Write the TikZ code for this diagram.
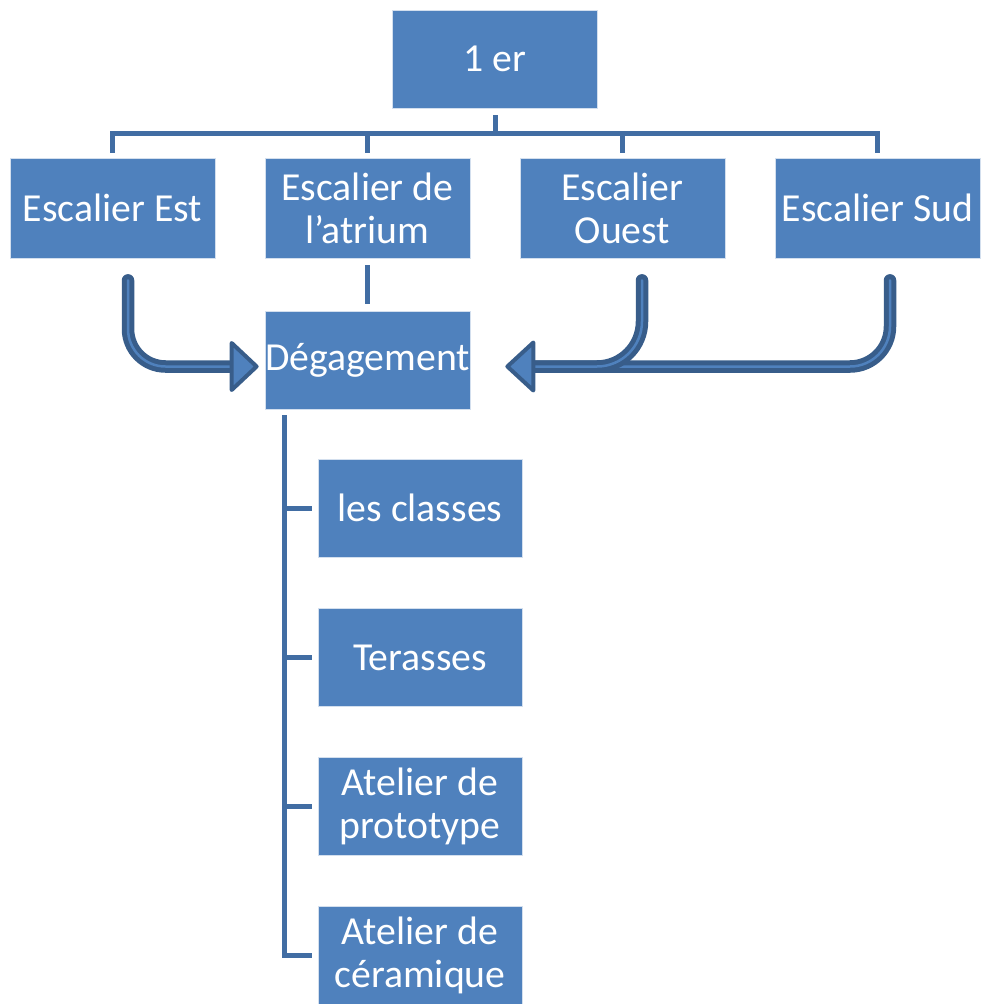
\documentclass[tikz,border=0pt]{standalone}
\usepackage{fontspec}
\setmainfont{Carlito}

\definecolor{boxblue}{HTML}{4F81BD}
\definecolor{linkblue}{HTML}{416DA3}
\definecolor{arrowdark}{HTML}{385D8A}

\begin{document}
\begin{tikzpicture}[
	box/.style = {fill = boxblue, draw = white!75!boxblue, line width = 0.4pt, text = white,
		minimum width = 4.1cm, minimum height = 2cm, inner sep = 0pt, align = center,
		font = \fontsize{22.6}{24.5}\selectfont},
	leaf/.style = {box, minimum width = 4.08cm, minimum height = 1.96cm},
	tree/.style = {draw = linkblue, line width = 0.1cm},
	shaft/.style = {draw = arrowdark, line width = 0.1cm, double = boxblue,
		double distance = 0.05cm, line cap = round, rounded corners = #1},
	shaft/.default = 0.7cm,
	head/.style = {fill = boxblue, draw = arrowdark, line width = 0.08cm, line join = round}
]

	\useasboundingbox (0, 0) rectangle (19.62, -20.08);

	% Floor and staircases
	
	\node [box, minimum height = 1.96cm] (top) at (9.9, -1.18) {1 er};
	\node [box] (est) at (2.25, -4.16) {Escalier Est};
	\node [box] (atrium) at (7.35, -4.16) {Escalier de\\l’atrium};
	\node [box] (ouest) at (12.45, -4.16) {Escalier\\Ouest};
	\node [box] (sud) at (17.55, -4.16) {Escalier Sud};
	
	% Corridor and rooms
	
	\node [box, minimum height = 1.96cm] (deg) at (7.35, -7.2) {Dégagement};
	\node [leaf] (classes) at (8.4, -10.16) {les classes};
	\node [leaf] (terasses) at (8.4, -13.15) {Terasses};
	\node [leaf] (proto) at (8.4, -16.13) {Atelier de\\prototype};
	\node [leaf] (ceram) at (8.4, -19.11) {Atelier de\\céramique};
	
	% Tree lines
	
	\coordinate (bar) at (9.9, -2.66);
	\draw [tree] ([yshift = -1.4mm] top.south) -- (bar);
	\draw [tree] ([yshift = 1mm] est.north) |- (bar -| sud) -- ([yshift = 1mm] sud.north);
	\foreach \n in {atrium, ouest}
		\draw [tree] ([yshift = 1mm] \n.north) -- (bar -| \n);
	\draw [tree] ([yshift = -1.4mm] atrium.south) -- ([yshift = 1.4mm] deg.north);
	
	\coordinate (spine) at (5.68, -8.3);
	\draw [tree] (spine) |- ([xshift = -1.2mm] ceram.west);
	\foreach \n in {classes, terasses, proto}
		\draw [tree] (spine |- \n.west) -- ([xshift = -1.2mm] \n.west);
	
	% Arrows into the corridor
	
	\coordinate (tipL) at ([xshift = -1.6mm, yshift = -1.3mm] deg.west);
	\coordinate (tipR) at ([xshift = 7.4mm, yshift = -1.3mm] deg.east);
	
	\draw [shaft = 0.75cm] ([xshift = 3.1mm, yshift = -4.4mm] est.south) |- ([xshift = -4.6mm] tipL);
	\filldraw [head] (tipL) -- ++(-0.5, 0.47) -- ++(0, -0.94) -- cycle;
	
	\draw [shaft = 0.8cm] ([xshift = 2.5mm, yshift = -4.4mm] sud.south) |- ([xshift = 4.8mm] tipR);
	\draw [shaft = 0.9cm] ([xshift = 3.9mm, yshift = -4.4mm] ouest.south) |- ([xshift = 4.8mm] tipR);
	\filldraw [head] (tipR) -- ++(0.52, 0.48) -- ++(0, -0.96) -- cycle;
	
\end{tikzpicture}
\end{document}
